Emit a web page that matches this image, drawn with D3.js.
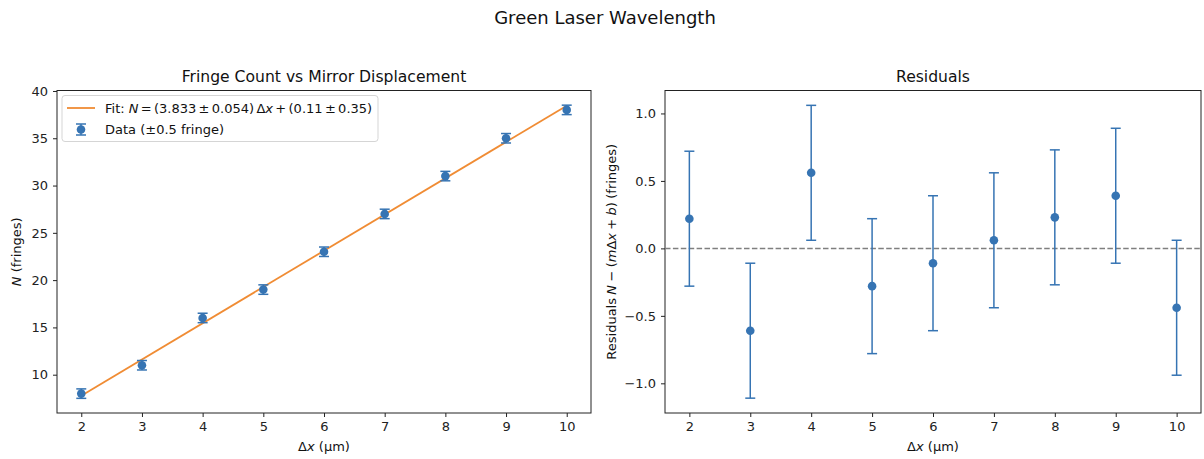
<!DOCTYPE html>
<html>
<head>
<meta charset="utf-8">
<script src="https://cdn.jsdelivr.net/npm/d3@7"></script>
<style>
  body { margin: 0; background: #fff; }
  svg { font-family: 'DejaVu Sans', sans-serif; }
  .tick text { font-size: 13px; fill: #222; }
  .tick line { stroke: #222; }
  .domain { stroke: #222; }
</style>
</head>
<body>
<div id="chart"></div>
<script>
// data
const displacement = [2, 3, 4, 5, 6, 7, 8, 9, 10];
const fringes = [8, 11, 16, 19, 23, 27, 31, 35, 38];
const fringeErr = 0.5;
const residuals = [0.22, -0.61, 0.56, -0.28, -0.11, 0.06, 0.23, 0.39, -0.44];
const fitSlope = 3.833;
const fitIntercept = 0.11;
const xTicks = [2, 3, 4, 5, 6, 7, 8, 9, 10];
const nTicks = [10, 15, 20, 25, 30, 35, 40];
const resTicks = [-1.0, -0.5, 0.0, 0.5, 1.0];

const width = 1204;
const height = 459;
const blue = '#3674b3';
const orange = '#f08c34';

const svg = d3
  .select('#chart')
  .append('svg')
  .attr('width', width)
  .attr('height', height);

svg
  .append('text')
  .attr('x', 605)
  .attr('y', 24)
  .attr('text-anchor', 'middle')
  .attr('font-size', 18)
  .attr('fill', '#111')
  .text('Green Laser Wavelength');

const plotTop = 90.5;
const plotBottom = 413;

// Left panel
const x1 = d3.scaleLinear().domain([1.6, 10.4]).range([57, 591]);
const y1 = d3.scaleLinear().domain([5.95, 40.05]).range([plotBottom, plotTop]);

// Right panel
const x2 = d3.scaleLinear().domain([1.6, 10.4]).range([665, 1201]);
const y2 = d3.scaleLinear().domain([-1.22, 1.17]).range([plotBottom, plotTop]);

function frame(g, x, y, xt, yt, yfmt) {
  g.append('g')
    .attr('transform', `translate(0,${plotBottom})`)
    .call(d3.axisBottom(x).tickValues(xt).tickSize(4).tickPadding(5).tickSizeOuter(0))
    .call((a) => a.select('.domain').remove());
  g.append('g')
    .attr('transform', `translate(${x.range()[0]},0)`)
    .call(d3.axisLeft(y).tickValues(yt).tickFormat(yfmt).tickSize(4).tickPadding(5).tickSizeOuter(0))
    .call((a) => a.select('.domain').remove());
  g.append('rect')
    .attr('x', x.range()[0])
    .attr('y', plotTop)
    .attr('width', x.range()[1] - x.range()[0])
    .attr('height', plotBottom - plotTop)
    .attr('fill', 'none')
    .attr('stroke', '#222')
    .attr('stroke-width', 1);
  g.selectAll('.tick text').attr('font-size', 13).attr('font-family', "'DejaVu Sans', sans-serif");
}

function errorbars(g, x, y, ys, err) {
  const cap = 5;
  const bars = g.append('g').selectAll('g').data(displacement).join('g');
  bars.append('line')
    .attr('x1', (d) => x(d)).attr('x2', (d) => x(d))
    .attr('y1', (d, i) => y(ys[i] - err)).attr('y2', (d, i) => y(ys[i] + err))
    .attr('stroke', blue).attr('stroke-width', 1.5);
  [-1, 1].forEach((s) => {
    bars.append('line')
      .attr('x1', (d) => x(d) - cap).attr('x2', (d) => x(d) + cap)
      .attr('y1', (d, i) => y(ys[i] + s * err)).attr('y2', (d, i) => y(ys[i] + s * err))
      .attr('stroke', blue).attr('stroke-width', 1.5);
  });
  bars.append('circle')
    .attr('cx', (d) => x(d))
    .attr('cy', (d, i) => y(ys[i]))
    .attr('r', 4.3)
    .attr('fill', blue);
}

const leftPanel = svg.append('g');
frame(leftPanel, x1, y1, xTicks, nTicks, d3.format('d'));

const fitLine = d3.line().x((d) => x1(d)).y((d) => y1(fitSlope * d + fitIntercept));
leftPanel.append('path')
  .attr('d', fitLine([2, 10]))
  .attr('fill', 'none')
  .attr('stroke', orange)
  .attr('stroke-width', 1.8);

errorbars(leftPanel, x1, y1, fringes, fringeErr);

leftPanel.append('text')
  .attr('x', 324).attr('y', 82)
  .attr('text-anchor', 'middle').attr('font-size', 15.6).attr('fill', '#111')
  .text('Fringe Count vs Mirror Displacement');

leftPanel.append('text')
  .attr('x', 324).attr('y', 451)
  .attr('text-anchor', 'middle').attr('font-size', 13).attr('fill', '#111')
  .html('Δ<tspan font-style="italic">x</tspan> (μm)');

leftPanel.append('text')
  .attr('transform', `translate(21,${(plotTop + plotBottom) / 2}) rotate(-90)`)
  .attr('text-anchor', 'middle').attr('font-size', 13).attr('fill', '#111')
  .html('<tspan font-style="italic">N</tspan> (fringes)');

// legend
const lg = leftPanel.append('g');
lg.append('rect')
  .attr('x', 62).attr('y', 95.5).attr('width', 316).attr('height', 46)
  .attr('rx', 3).attr('fill', '#fff').attr('fill-opacity', 0.8)
  .attr('stroke', '#d5d5d5');
lg.append('line')
  .attr('x1', 67).attr('x2', 95).attr('y1', 108).attr('y2', 108)
  .attr('stroke', orange).attr('stroke-width', 1.8);
lg.append('text')
  .attr('x', 105).attr('y', 112.5).attr('font-size', 13).attr('fill', '#111')
  .attr('word-spacing', -1.8)
  .html('Fit:<tspan dx="4" font-style="italic">N</tspan> = (3.833 ± 0.054) Δ<tspan font-style="italic">x</tspan> + (0.11 ± 0.35)');
lg.append('line')
  .attr('x1', 81).attr('x2', 81).attr('y1', 124).attr('y2', 135)
  .attr('stroke', blue).attr('stroke-width', 1.5);
[124, 135].forEach((yy) => lg.append('line')
  .attr('x1', 76).attr('x2', 86).attr('y1', yy).attr('y2', yy)
  .attr('stroke', blue).attr('stroke-width', 1.5));
lg.append('circle').attr('cx', 81).attr('cy', 129.5).attr('r', 4.3).attr('fill', blue);
lg.append('text')
  .attr('x', 105).attr('y', 134).attr('font-size', 13).attr('fill', '#111')
  .text('Data (±0.5 fringe)');

// Right panel
const rightPanel = svg.append('g');
frame(rightPanel, x2, y2, xTicks, resTicks, d3.format('.1f'));
rightPanel.selectAll('.tick text').text(function () {
  return this.textContent.replace('-', '−');
});

rightPanel.append('line')
  .attr('x1', x2.range()[0]).attr('x2', x2.range()[1])
  .attr('y1', y2(0)).attr('y2', y2(0))
  .attr('stroke', '#7f7f7f').attr('stroke-width', 1.5)
  .attr('stroke-dasharray', '5.5,2.4');

errorbars(rightPanel, x2, y2, residuals, fringeErr);

rightPanel.append('text')
  .attr('x', 933).attr('y', 82)
  .attr('text-anchor', 'middle').attr('font-size', 15.6).attr('fill', '#111')
  .text('Residuals');

rightPanel.append('text')
  .attr('x', 933).attr('y', 451)
  .attr('text-anchor', 'middle').attr('font-size', 13).attr('fill', '#111')
  .html('Δ<tspan font-style="italic">x</tspan> (μm)');

rightPanel.append('text')
  .attr('transform', `translate(616,${(plotTop + plotBottom) / 2}) rotate(-90)`)
  .attr('text-anchor', 'middle').attr('font-size', 13).attr('fill', '#111')
  .attr('word-spacing', -0.8)
  .html('Residuals <tspan font-style="italic">N</tspan> − (<tspan font-style="italic">m</tspan>Δ<tspan font-style="italic">x</tspan> + <tspan font-style="italic">b</tspan>) (fringes)');
</script>
</body>
</html>
